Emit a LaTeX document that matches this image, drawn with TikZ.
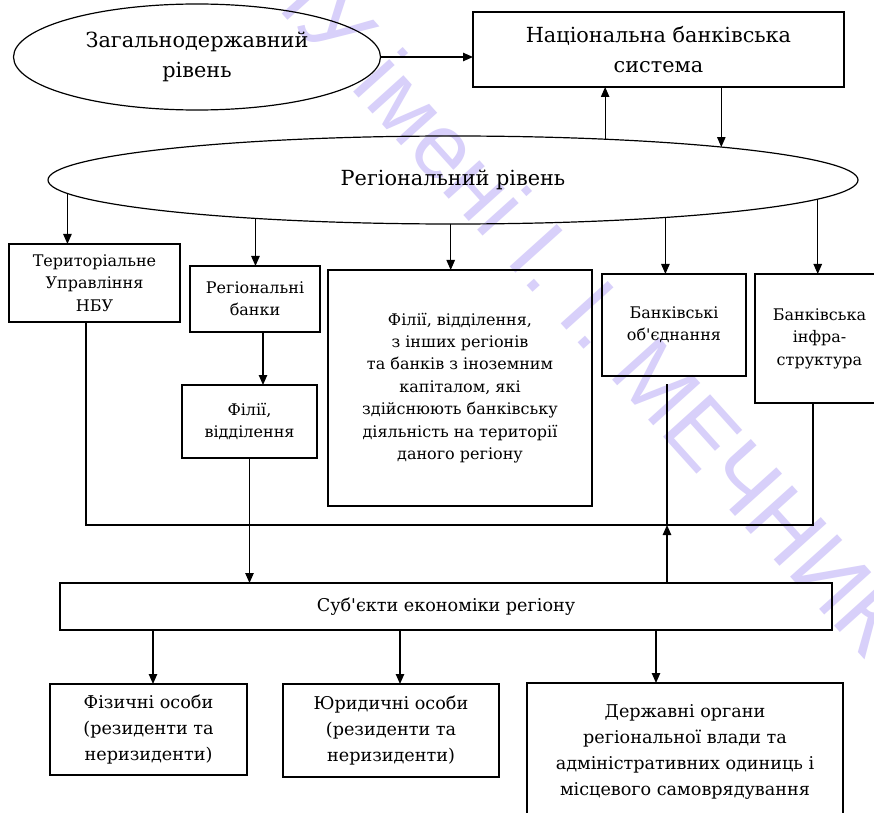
\documentclass[tikz,border=0pt]{standalone}
\usepackage{fontspec}
\setmainfont{DejaVu Serif}[Scale=0.80, Ligatures=TeXOff]
\newfontfamily\wmfont{Liberation Sans}
\usetikzlibrary{shapes.geometric,arrows.meta}
\definecolor{wm}{RGB}{216,208,250}
\begin{document}
\begin{tikzpicture}[x=0.5pt,y=-0.5pt,
  every node/.style={inner sep=0pt, outer sep=0pt, align=center},
  box/.style={draw, line width=0.6pt, rectangle},
  oval/.style={draw, line width=0.6pt, ellipse},
  bigtxt/.style={font=\rmfamily\fontsize{13}{15}\selectfont},
  midtxt/.style={font=\rmfamily\fontsize{11}{13}\selectfont},
  smtxt/.style={font=\rmfamily\fontsize{10}{11.2}\selectfont},
  arr/.style={line width=0.6pt, -{Triangle[length=5pt,width=4.2pt]}},
  ln/.style={line width=0.6pt}]
\useasboundingbox (0,0) rectangle (874,813);
\fill[white] (0,0) rectangle (874,813);
\clip (0,0) rectangle (874,813);

% watermark
\node[font=\wmfont\fontsize{46}{46}\selectfont, text=wm, rotate=-48, anchor=base west] (wmk) at (201,-77) {ОНУ імені І. І. МЕЧНИКОВА};

% nodes
\node[oval, bigtxt, minimum width=183.5pt, minimum height=53pt] (zag) at (197,57) {Загальнодержавний\\рівень};
\node[box, bigtxt, minimum width=185.5pt, minimum height=37.5pt] (nbs) at (658.5,49.5) {Національна банківська\\система};
\node[oval, bigtxt, minimum width=405pt, minimum height=44pt] (reg) at (453,180) {Регіональний рівень};

\node[box, smtxt, minimum width=85.5pt, minimum height=39pt] (tu) at (94.5,283) {Територіальне\\Управління\\НБУ};
\node[box, smtxt, minimum width=65pt, minimum height=33pt] (rb) at (255,299) {Регіональні\\банки};
\node[box, smtxt, minimum width=67.5pt, minimum height=36.5pt] (fil) at (249.5,421.5) {Філії,\\відділення};
\node[box, smtxt, minimum width=132pt, minimum height=118pt] (big) at (460,388) {Філії, відділення,\\з інших регіонів\\та банків з іноземним\\капіталом, які\\здійснюють банківську\\діяльність на території\\даного регіону};
\node[box, smtxt, minimum width=72pt, minimum height=51pt] (obj) at (674,325) {Банківські\\об'єднання};
\node[box, smtxt, minimum width=64.5pt, minimum height=64.5pt] (infra) at (819.5,338.5) {Банківська\\інфра-\\структура};

\node[box, midtxt, minimum width=386pt, minimum height=23.5pt] (sub) at (446,606.5) {Суб'єкти економіки регіону};
\node[box, midtxt, minimum width=98.5pt, minimum height=45.5pt] (fiz) at (148.5,729.5) {Фізичні особи\\(резиденти та\\неризиденти)};
\node[box, midtxt, minimum width=108pt, minimum height=46.5pt] (yur) at (391,730.5) {Юридичні особи\\(резиденти та\\неризиденти)};
\node[box, midtxt, minimum width=158pt, minimum height=68.5pt] (derzh) at (685,751.5) {Державні органи\\регіональної влади та\\адміністративних одиниць і\\місцевого самоврядування};

% helper coordinates
\coordinate (cTU) at (86,0);
\coordinate (cRB) at (263,0);
\coordinate (hlR) at (813,525);
\coordinate (cObj) at (667,384);
\coordinate (cF) at (153,0);
\coordinate (cY) at (400,0);
\coordinate (cD) at (656,0);

% connectors
\draw[arr] (zag.east) -- (zag.east -| nbs.west);
\draw[arr] (reg.15.7) -- (reg.15.7 |- nbs.south);
\draw[arr] (nbs.south -| reg.7.5) -- (reg.7.5);

\draw[arr] (reg.182.9) -- (reg.182.9 |- tu.north);
\draw[arr] (reg.191.6) -- (reg.191.6 |- rb.north);
\draw[arr] (reg.267.4) -- (reg.267.4 |- big.north);
\draw[arr] (reg.350.4) -- (reg.350.4 |- obj.north);
\draw[arr] (reg.357.7) -- (reg.357.7 |- infra.north);

\draw[arr] (rb.south -| cRB) -- (fil.north -| cRB);

\draw[ln] (tu.south -| cTU) |- (hlR) -- (hlR |- infra.south);
\draw[ln] (cObj) -- (cObj |- hlR);
\draw[arr] (sub.north -| cObj) -- (cObj |- hlR);
\draw[arr] (fil.south) -- (fil.south |- sub.north);

\draw[arr] (sub.south -| cF) -- (fiz.north -| cF);
\draw[arr] (sub.south -| cY) -- (yur.north -| cY);
\draw[arr] (sub.south -| cD) -- (derzh.north -| cD);
\end{tikzpicture}
\end{document}
